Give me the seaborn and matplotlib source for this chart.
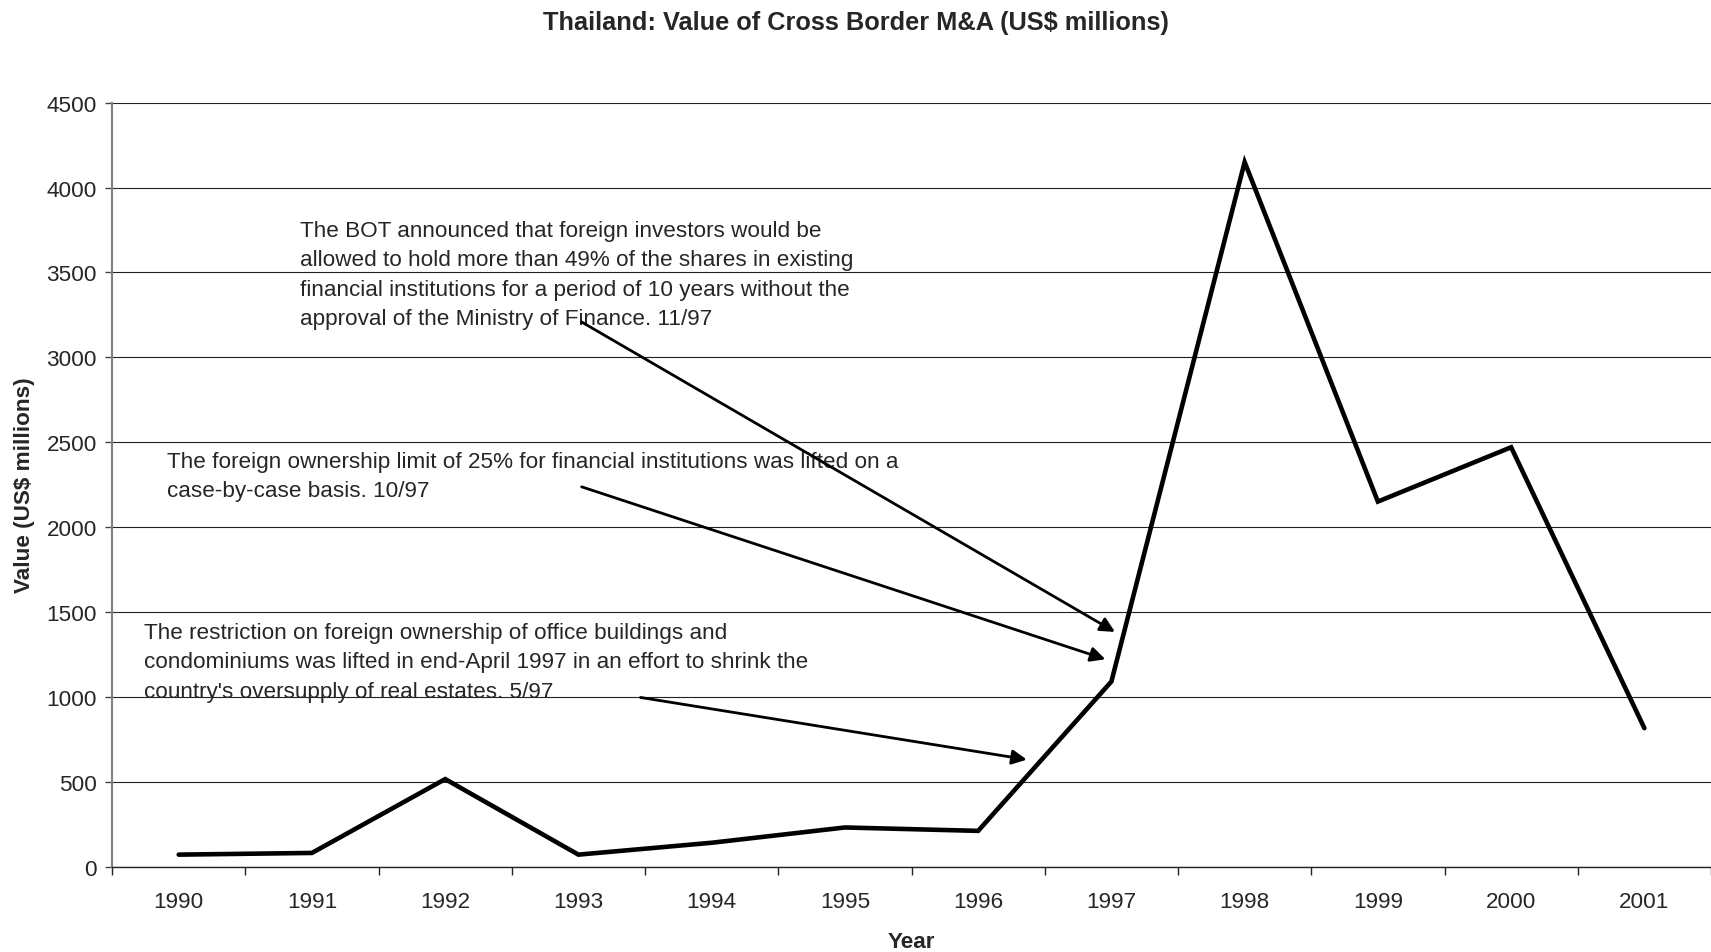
import numpy as np
import pandas as pd
import matplotlib
matplotlib.use("Agg")
import matplotlib.pyplot as plt
import seaborn as sns

# Cross-border M&A values for Thailand, US$ millions
years = ["1990", "1991", "1992", "1993", "1994", "1995",
         "1996", "1997", "1998", "1999", "2000", "2001"]
values = [70, 80, 515, 70, 140, 230, 210, 1090, 4150, 2150, 2470, 815]

y_ticks = [0, 500, 1000, 1500, 2000, 2500, 3000, 3500, 4000, 4500]

notes = [
    "The BOT announced that foreign investors would be\n"
    "allowed to hold more than 49% of the shares in existing\n"
    "financial institutions for a period of 10 years without the\n"
    "approval of the Ministry of Finance. 11/97",
    "The foreign ownership limit of 25% for financial institutions was lifted on a\n"
    "case-by-case basis. 10/97",
    "The restriction on foreign ownership of office buildings and\n"
    "condominiums was lifted in end-April 1997 in an effort to shrink the\n"
    "country's oversupply of real estates. 5/97",
]

df = pd.DataFrame({"pos": np.arange(len(years)), "year": years, "value": values})

sns.set_theme(style="white")
plt.rcParams["font.family"] = ["Liberation Sans", "DejaVu Sans"]

fig = plt.figure(figsize=(17.11, 9.53), dpi=100)
ax = fig.add_axes([0.0655, 0.0897, 0.9345, 0.8015])

sns.lineplot(data=df, x="pos", y="value", ax=ax, color="black",
             linewidth=3.3, solid_joinstyle="miter")

ax.set_xlim(-0.5, len(years) - 0.5)
ax.set_ylim(0, 4500)

# category boundaries carry the tick marks, labels sit on the centres
ax.set_xticks(np.arange(-0.5, len(years), 1.0))
ax.set_xticklabels([])
ax.set_xticks(df["pos"], minor=True)
ax.set_xticklabels(years, minor=True)
ax.tick_params(axis="x", which="major", direction="out", length=6,
               width=1, color="#222222", bottom=True)
ax.tick_params(axis="x", which="minor", length=0, pad=17.5, labelsize=16.2)

ax.set_yticks(y_ticks)
ax.set_yticklabels([str(v) for v in y_ticks])
ax.tick_params(axis="y", direction="out", length=5, width=1,
               color="#444444", pad=6, labelsize=16.2, left=True)

ax.grid(axis="y", color="#222222", linewidth=0.8)
ax.set_axisbelow(True)
for side in ("top", "right"):
    ax.spines[side].set_visible(False)
ax.spines["left"].set_color("#808080")
ax.spines["left"].set_linewidth(1.5)
ax.spines["bottom"].set_color("#222222")
ax.spines["bottom"].set_linewidth(1.0)

ax.set_xlabel("Year", fontsize=16.2, fontweight="bold")
ax.set_ylabel("Value (US$ millions)", fontsize=16.2, fontweight="bold")
ax.xaxis.set_label_coords(0.5, -0.085)
ax.yaxis.set_label_coords(-0.048, 0.5)

fig.text(0.5, 0.9755, "Thailand: Value of Cross Border M&A (US$ millions)",
         ha="center", va="center", fontsize=18.3, fontweight="bold")

arrow = dict(arrowstyle="-|>", color="black", lw=2.0, mutation_scale=22,
             shrinkA=0, shrinkB=0)

# annotation text blocks
ax.text(0.911, 3488, notes[0], ha="left", va="center", fontsize=16.2,
        linespacing=1.52)
ax.text(-0.087, 2300, notes[1], ha="left", va="center", fontsize=16.2,
        linespacing=1.52)
ax.text(-0.26, 1205, notes[2], ha="left", va="center", fontsize=16.2,
        linespacing=1.52)

# pointers toward the 1997 segment
ax.annotate("", xy=(7.027, 1382), xytext=(3.024, 3208), arrowprops=arrow)
ax.annotate("", xy=(6.955, 1221), xytext=(3.024, 2237), arrowprops=arrow)
ax.annotate("", xy=(6.365, 630), xytext=(3.466, 996), arrowprops=arrow)

fig.savefig("out.png", dpi=100)
